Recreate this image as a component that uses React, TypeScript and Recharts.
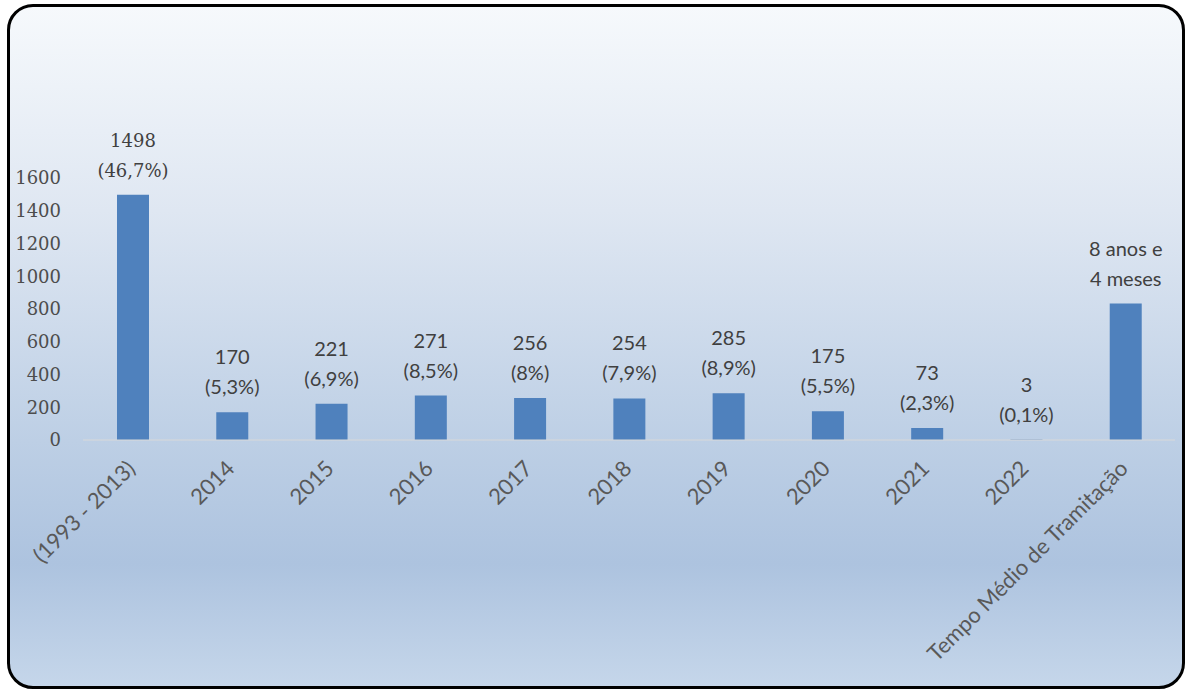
import React from 'react'
import { BarChart, Bar, XAxis, YAxis, LabelList } from 'recharts'

const categories = ['(1993 - 2013)', '2014', '2015', '2016', '2017', '2018', '2019', '2020', '2021', '2022', 'Tempo Médio de Tramitação']
const values = [1498, 170, 221, 271, 256, 254, 285, 175, 73, 3, 833]
const topLines = ['1498', '170', '221', '271', '256', '254', '285', '175', '73', '3', '8 anos e']
const bottomLines = ['(46,7%)', '(5,3%)', '(6,9%)', '(8,5%)', '(8%)', '(7,9%)', '(8,9%)', '(5,5%)', '(2,3%)', '(0,1%)', '4 meses']
const yTicks = [0, 200, 400, 600, 800, 1000, 1200, 1400, 1600]

const data = categories.map((name, i) => ({
  name,
  value: values[i],
  top: topLines[i],
  bottom: bottomLines[i],
}))

const SERIF = '"DejaVu Serif", serif'
const SANS = 'Lato, "Noto Sans", sans-serif'

const renderLabel = (props: any) => {
  const { x, y, width, index } = props
  const cx = x + width / 2
  const first = index === 0
  const style = first
    ? { fontFamily: SERIF, fontSize: 18, fill: '#404040' }
    : { fontFamily: SANS, fontSize: 20, fill: '#404040' }
  return (
    <g>
      <text x={cx} y={y - 48} textAnchor="middle" {...style}>{topLines[index]}</text>
      <text x={cx} y={y - 18} textAnchor="middle" {...style}>{bottomLines[index]}</text>
    </g>
  )
}

const XTick = (props: any) => {
  const { x, y, payload } = props
  return (
    <g transform={`translate(${x + 4},${y + 30})`}>
      <text x={0} y={0} textAnchor="end" transform="rotate(-45)" fontFamily={SANS} fontSize={22} fill="#595959">
        {payload.value}
      </text>
    </g>
  )
}

export default function App() {
  return (
    <div
      style={{
        position: 'absolute',
        left: 7,
        top: 4,
        width: 1172,
        height: 679,
        border: '3px solid #000',
        borderRadius: 26,
        background: 'linear-gradient(to bottom, #f6f9fc 0%, #dfe7f2 30%, #bdcfe5 64%, #adc3df 82%, #c5d6ea 100%)',
        overflow: 'hidden',
      }}
    >
      <BarChart width={1172} height={679} data={data} margin={{ top: 171, right: 7, bottom: 16, left: 0 }}>
        <XAxis
          dataKey="name"
          interval={0}
          tickLine={false}
          tickSize={0}
          tickMargin={0}
          height={230}
          axisLine={{ stroke: '#d9d9d9', strokeWidth: 1 }}
          tick={<XTick />}
        />
        <YAxis
          width={73}
          domain={[0, 1600]}
          ticks={yTicks}
          axisLine={false}
          tickLine={false}
          tickSize={0}
          tickMargin={22}
          tick={{ fontFamily: SERIF, fontSize: 18, fill: '#4d4d4d' }}
        />
        <Bar dataKey="value" fill="#4f81bd" barSize={32} isAnimationActive={false}>
          <LabelList dataKey="value" content={renderLabel} />
        </Bar>
      </BarChart>
    </div>
  )
}
